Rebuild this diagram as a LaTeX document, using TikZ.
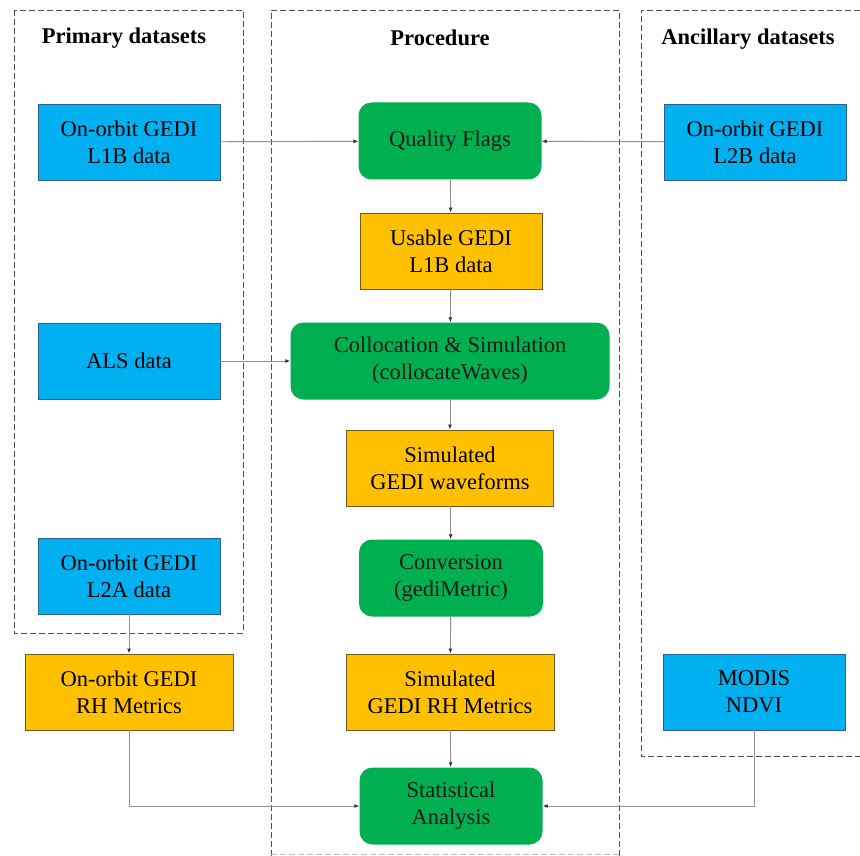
\documentclass[tikz,border=0pt]{standalone}
\usepackage{fontspec}
\setmainfont{Liberation Serif}
\usetikzlibrary{arrows.meta,positioning}
\definecolor{bluefill}{HTML}{00B0F0}
\definecolor{blueline}{HTML}{2F5F8F}
\definecolor{orangefill}{HTML}{FFC000}
\definecolor{orangeline}{HTML}{6F5A20}
\definecolor{greenfill}{HTML}{00B050}
\definecolor{conn}{HTML}{909090}
\definecolor{dashc}{HTML}{505050}
\tikzset{
  lbl/.style={font=\fontsize{22.5}{27}\selectfont, align=center, inner sep=0pt},
  bluebox/.style={lbl, draw=blueline, fill=bluefill, line width=0.9pt, minimum width=182pt, minimum height=76pt},
  orangebox/.style={lbl, draw=orangeline, fill=orangefill, line width=0.9pt, minimum height=76pt},
  greenbox/.style={lbl, fill=greenfill, rounded corners=13pt, minimum height=77pt, text=black!90},
  group/.style={draw=dashc, dash pattern=on 6pt off 3pt, line width=0.8pt},
  title/.style={font=\bfseries\fontsize{22.5}{27}\selectfont, inner sep=0pt},
  conarrow/.style={draw=conn, line width=0.9pt, -{Latex[length=5pt,width=4pt,black!80]}}
}
\begin{document}
\begin{tikzpicture}[x=1pt,y=-1pt]
\useasboundingbox (0,0) rectangle (860,856);
% groups
\draw[group] (14,10) rectangle (243,633);
\draw[group] (271,856) -- (271,10) -- (619,10) -- (619,856);
\draw[draw=dashc!40, dash pattern=on 6pt off 3pt, line width=0.6pt] (271,854) -- (619,854);
\draw[group] (870,756) -- (641,756) -- (641,10) -- (870,10);
\node[title] (t1) at (124,38) {Primary datasets};
\node[title] (t2) at (440,38) {Procedure};
\node[title] (t3) at (748,39) {Ancillary datasets};
% left column
\node[bluebox] (l1b) at (129,142) {On-orbit GEDI\\L1B data};
\node[bluebox] (als) at (129,361) {ALS data};
\node[bluebox] (l2a) at (129,576) {On-orbit GEDI\\L2A data};
\node[orangebox, minimum width=208pt] (orh) at (129,692) {On-orbit GEDI\\RH Metrics};
% middle column
\node[greenbox, minimum width=183pt] (qf) at (450,141) {Quality Flags};
\node[orangebox, minimum width=182pt] (use) at (451,251) {Usable GEDI\\L1B data};
\node[greenbox, minimum width=319pt] (col) at (450,361) {Collocation \& Simulation\\(collocateWaves)};
\node[orangebox, minimum width=207pt] (sw) at (450,468) {Simulated\\GEDI waveforms};
\node[greenbox, minimum width=184pt] (conv) at (451,578) {Conversion\\(gediMetric)};
\node[orangebox, minimum width=208pt] (srh) at (450,692) {Simulated\\GEDI RH Metrics};
\node[greenbox, minimum width=183pt] (stat) at (451,806) {Statistical\\Analysis};
% right column
\node[bluebox] (l2b) at (755,142) {On-orbit GEDI\\L2B data};
\node[bluebox] (modis) at (754,692) {MODIS\\NDVI};
% connectors
\draw[conarrow] (l1b) -- (qf);
\draw[conarrow] (l2b) -- (qf);
\draw[conarrow] (qf) -- (use);
\draw[conarrow] (use) -- (col);
\draw[conarrow] (als) -- (col);
\draw[conarrow] (col) -- (sw);
\draw[conarrow] (sw) -- (conv);
\draw[conarrow] (conv) -- (srh);
\draw[conarrow] (srh) -- (stat);
\draw[conarrow] (l2a) -- (orh);
\draw[conarrow] (orh.south) |- (stat.west);
\draw[conarrow] (modis.south) |- (stat.east);
\end{tikzpicture}
\end{document}
